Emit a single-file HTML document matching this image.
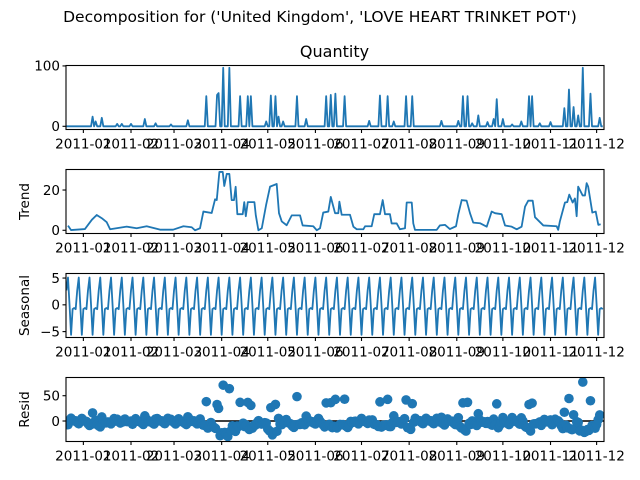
<!DOCTYPE html>
<html><head><meta charset="utf-8"><style>
body{margin:0;background:#fff}
svg{display:block;font-family:"DejaVu Sans","Liberation Sans",sans-serif}
</style></head><body>
<svg id="chart" width="640" height="480" xmlns="http://www.w3.org/2000/svg">
<text x="320" y="22" font-size="15.5" text-anchor="middle">Decomposition for ('United Kingdom', 'LOVE HEART TRINKET POT')</text>
<text x="334.5" y="57" font-size="16" text-anchor="middle">Quantity</text>
</svg>
<script>
const monthTickDays=[0,31,59,90,120,151,181,212,243,273,304,334];
const monthTickLabels=["2011-01","2011-02","2011-03","2011-04","2011-05","2011-06","2011-07","2011-08","2011-09","2011-10","2011-11","2011-12"];
const spikeDays=[6,8,12,22,25,31,40,47,57,68,80,87,88,91,95,102,107,109,119,122,125,127,130,139,145,158,161,164,170,186,193,198,202,210,214,233,244,247,250,253,257,263,267,269,273,279,285,290,292,297,304,313,316,319,322,325,330,336];
const spikeValues=[16,8,14,4,4,4,12,5,3,10,50,52,55,97,97,50,50,50,8,51,50,16,8,50,12,50,52,54,50,9,51,50,8,50,50,9,9,50,50,5,18,7,12,45,12,3,8,50,50,5,7,30,61,32,18,97,54,14];
const trendDays=[-10,-8,1,5.5,8.7,12,15.2,17.4,28.2,34.7,41.2,49.9,58.4,65.1,70.5,72.7,75.9,78.1,83.5,85.7,86.8,88.5,90.7,91.7,93.3,95,96.5,98,99.1,100.2,103.7,104.7,105.7,107,111.3,112.2,113.9,116.1,118.9,121.5,125.8,127.3,129.1,132.3,135.6,141,142.7,149.6,151.9,154,156.1,159.4,161,163.8,165.9,166.6,168.1,173.5,175.7,177.9,182.2,183.3,187.6,189.3,193,194.8,196.3,199.5,200.6,203.9,206,209.3,210.4,213.7,214.7,215.8,229.9,232,235.3,238.5,242.5,244,246.2,249.4,251.6,253.7,258.1,262.5,265.7,267.9,272.2,274.4,278.7,282,285.2,287.4,289.5,292.4,293.9,299.3,308,309,310.1,313.4,314.9,316.2,318.4,319.9,321,322,324.9,326.4,327.5,328.5,331.2,333.4,335.1,336.6];
const trendValues=[2.3,0.1,0.6,5.2,7.6,6,4,0.5,1.8,1,2,0.3,0.3,2,1.5,0,1,9.3,8.6,15.4,15,29,29,22,28,28,15,15,21.6,8,8,14,7,14,14,7.5,0,1,12.5,21.7,23,8.5,4.4,2.5,7.4,7.4,2.4,2,0,1,8.8,9.3,16.6,8.5,8.5,14.2,7.7,7.7,1.8,0.5,0.5,2,2,8,8,15,8,8,3.4,3.4,0.5,1,13.8,13.8,3.4,0.2,0.2,2.4,2.7,0.6,2,8,15,14.7,8.5,3.8,3.5,1.8,9.3,8.5,8,2.4,1.8,0.5,1.8,11.7,14.7,14.7,6.5,2.4,2,0.2,4.5,13.8,14,17.7,13.8,15.8,7,21.7,17.3,17.3,23.4,21.7,8.8,9.3,2.7,3];
const seasonalPattern=[5.1,0,-5.6,-0.8,-0.6,-0.8,2.7];
const firstDay=-11, lastDay=338, seasonPhase=-10;

const NS="http://www.w3.org/2000/svg";
const svg=document.getElementById('chart');
const X0=66,X1=604,DMIN=-11.3,DMAX=338.8;
const xs=d=>X0+(d-DMIN)/(DMAX-DMIN)*(X1-X0);
function mk(tag,attrs,parent){const e=document.createElementNS(NS,tag);for(const k in attrs)e.setAttribute(k,attrs[k]);(parent||svg).appendChild(e);return e;}

const days=[],obs=[],seas=[],trendAt=[];
for(let d=firstDay;d<=lastDay;d++){
  days.push(d);
  const i=spikeDays.indexOf(d);obs.push(i>=0?spikeValues[i]:0);
  seas.push(seasonalPattern[(((d-seasonPhase)%7)+7)%7]);
  let t=null;
  for(let k=0;k<trendDays.length-1;k++){if(d>=trendDays[k]&&d<=trendDays[k+1]){const f=(d-trendDays[k])/(trendDays[k+1]-trendDays[k]);t=trendValues[k]+f*(trendValues[k+1]-trendValues[k]);break;}}
  trendAt.push(t);
}

const panels=[
 {name:'observed',top:65.5,min:-5.3,max:100.7,ticks:[0,100],labels:["0","100"],ylabel:null},
 {name:'trend',top:169.5,min:-1.6,max:30.2,ticks:[0,20],labels:["0","20"],ylabel:"Trend"},
 {name:'seasonal',top:273.5,min:-6.1,max:5.85,ticks:[-5,0,5],labels:["\u22125","0","5"],ylabel:"Seasonal"},
 {name:'resid',top:377.5,min:-40.5,max:86,ticks:[0,50],labels:["0","50"],ylabel:"Resid"}];
const H=64;
panels.forEach(p=>{
  const ys=v=>p.top+H-(v-p.min)/(p.max-p.min)*H;
  const g=mk('g',{});
  
  
  const clipId='clip-'+p.name;
  const cp=mk('clipPath',{id:clipId},g);mk('rect',{x:X0,y:p.top,width:X1-X0,height:H},cp);
  const plot=mk('g',{'clip-path':'url(#'+clipId+')'},g);
  if(p.name==='observed'){
    const pl=mk('polyline',{points:days.map((d,i)=>xs(d)+','+ys(obs[i])).join(' '),fill:'none',stroke:'#1f77b4','stroke-width':1.8,'stroke-linejoin':'round'},plot);
    
  } else if(p.name==='trend'){
    const pl=mk('polyline',{points:trendDays.map((d,i)=>xs(d)+','+ys(trendValues[i])).join(' '),fill:'none',stroke:'#1f77b4','stroke-width':1.8,'stroke-linejoin':'round'},plot);
    
  } else if(p.name==='seasonal'){
    const pl=mk('polyline',{points:days.map((d,i)=>xs(d)+','+ys(seas[i])).join(' '),fill:'none',stroke:'#1f77b4','stroke-width':1.8,'stroke-linejoin':'round'},plot);
    
  } else {
    const zl=mk('line',{x1:X0,x2:X1,y1:ys(0),y2:ys(0),stroke:'#000','stroke-width':1.5},plot);
    
    days.forEach((d,i)=>{if(trendAt[i]===null)return;
      const r=obs[i]-trendAt[i]-seas[i];
      const c=mk('circle',{cx:xs(d),cy:ys(r),r:4.8,fill:'#1f77b4'},plot);
      });
  }
  const fr=mk('rect',{x:X0,y:p.top,width:X1-X0,height:H,fill:'none',stroke:'#000','stroke-width':1.1},g);
  
  p.ticks.forEach((t,i)=>{const y=ys(t);
    mk('line',{x1:X0-3.5,x2:X0,y1:y,y2:y,stroke:'#000','stroke-width':1.1},g);
    const tx=mk('text',{x:X0-6,y:y+4.8,'font-size':13.5,'text-anchor':'end'},g);tx.textContent=p.labels[i];
    });
  monthTickDays.forEach((d,i)=>{const x=xs(d);
    mk('line',{x1:x,x2:x,y1:p.top+H,y2:p.top+H+3.5,stroke:'#000','stroke-width':1.1},g);
    const tx=mk('text',{x:x,y:p.top+H+19,'font-size':13.5,'text-anchor':'middle'},g);tx.textContent=monthTickLabels[i];
    });
  if(p.ylabel){const cy=p.top+H/2;
    const yl=mk('text',{x:0,y:0,'font-size':13.5,'text-anchor':'middle',transform:'translate(29,'+cy+') rotate(-90)'},g);
    yl.textContent=p.ylabel;
    }
});
</script>
</body></html>
